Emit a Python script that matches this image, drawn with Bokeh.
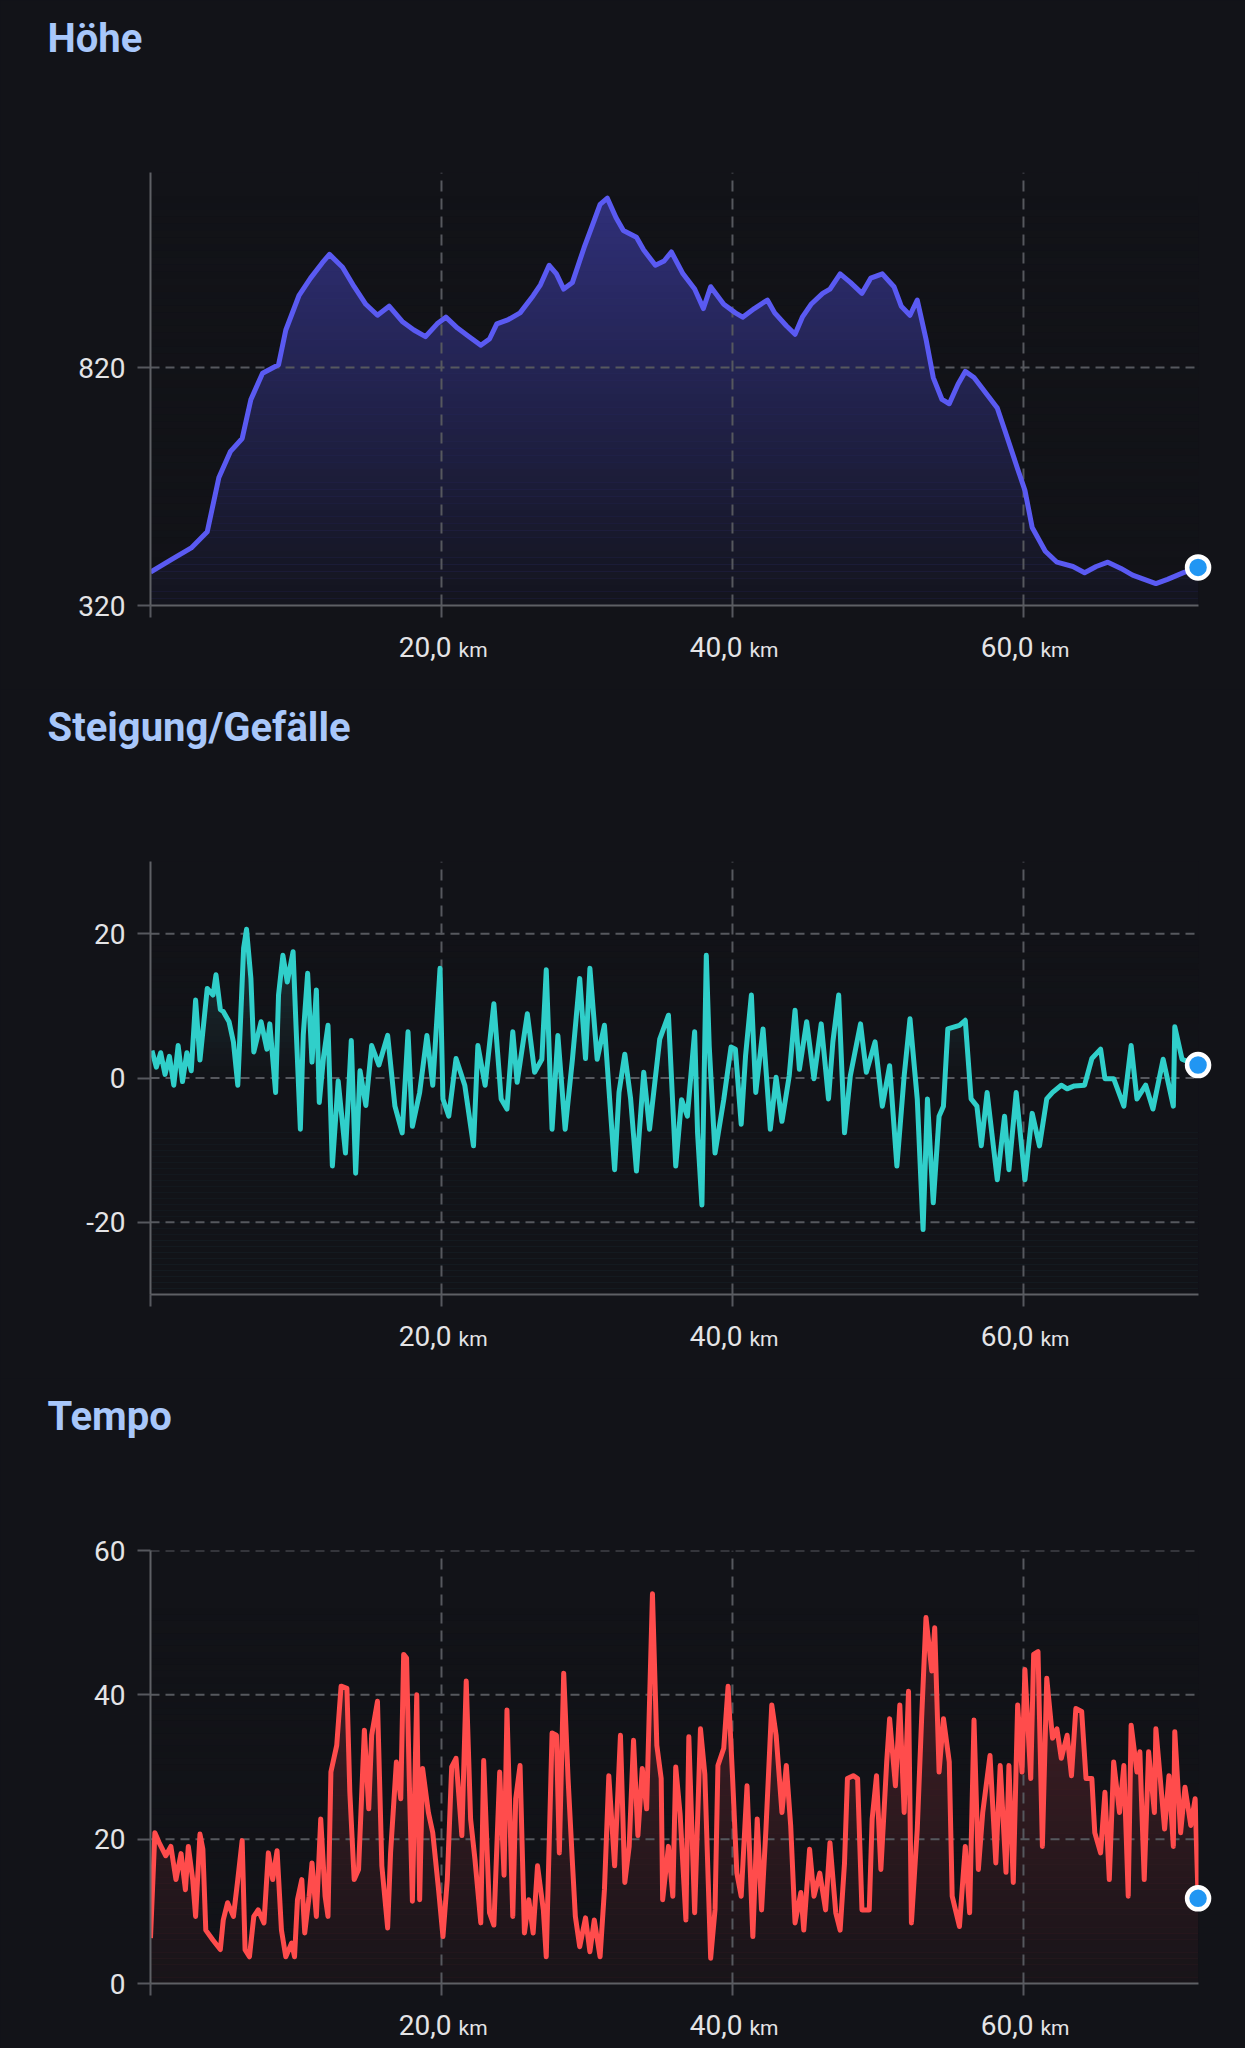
import numpy as np
from bokeh.plotting import figure
from bokeh.models import Range1d, FixedTicker, ColumnDataSource
from bokeh.core.properties import value
from bokeh.layouts import column
from bokeh.embed import file_html
from bokeh.resources import INLINE

# ---------------- data ----------------
titles = ["Höhe", "Steigung/Gefälle", "Tempo"]
x_ticks = [20, 40, 60]
x_tick_labels = ["20,0", "40,0", "60,0"]
x_unit = "km"

elev_km = [0, 1.4, 2.8, 3.9, 4.7, 5.5, 6.3, 6.9, 7.7, 8.8, 9.3, 10.2, 11.0, 11.8, 12.3, 13.2, 14.0, 14.8, 15.6, 16.4,
           17.3, 18.1, 18.9, 19.7, 20.3, 21.1, 21.9, 22.7, 23.3, 23.8, 24.6, 25.4, 26.3, 26.8, 27.4, 27.9, 28.4, 29.0, 29.8, 30.3,
           30.9, 31.4, 32.0, 32.5, 33.4, 33.9, 34.7, 35.3, 35.8, 36.6, 37.4, 38.0, 38.5, 39.4, 40.2, 40.7, 41.5, 42.4, 42.9, 43.7,
           44.3, 44.8, 45.4, 46.2, 46.7, 47.4, 48.1, 48.9, 49.5, 50.3, 51.1, 51.6, 52.2, 52.7, 53.3, 53.8, 54.4, 54.9, 55.5, 56.0,
           56.6, 57.4, 58.2, 58.7, 59.6, 60.1, 60.6, 61.5, 62.3, 63.4, 64.2, 65.0, 65.8, 66.7, 67.5, 68.3, 69.1, 69.9, 71.0, 72.0]
elev_m = [390, 416, 441, 475, 589, 644, 671, 753, 808, 826, 899, 971, 1008, 1040, 1058, 1031, 990, 953, 930, 949,
          917, 899, 885, 912, 926, 903, 885, 867, 880, 912, 921, 935, 971, 994, 1035, 1017, 985, 999, 1072, 1113,
          1163, 1176, 1135, 1108, 1094, 1067, 1035, 1044, 1063, 1017, 985, 944, 990, 953, 935, 926, 944, 962, 935, 908,
          890, 926, 953, 976, 985, 1017, 999, 976, 1008, 1017, 990, 949, 930, 962, 880, 799, 753, 744, 785, 812,
          799, 767, 735, 690, 607, 562, 484, 434, 411, 402, 389, 402, 411, 398, 384, 375, 366, 375, 389, 400]
elev_ticks = [320, 820]

grade_km = [0.1, 0.4, 0.7, 1.0, 1.3, 1.6, 1.9, 2.2, 2.5, 2.8, 3.1, 3.4, 3.9, 4.3, 4.5, 4.8, 5.0, 5.4, 5.7, 6.0,
            6.4, 6.6, 6.9, 7.1, 7.6, 8.0, 8.2, 8.6, 8.8, 9.1, 9.4, 9.8, 10.0, 10.3, 10.5, 10.8, 11.1, 11.4, 11.6, 11.9,
            12.2, 12.5, 12.9, 13.4, 13.8, 14.1, 14.4, 14.8, 15.2, 15.7, 16.3, 16.8, 17.3, 17.7, 18.0, 18.5, 19.0, 19.4, 19.9, 20.1,
            20.5, 21.0, 21.6, 22.2, 22.5, 23.0, 23.6, 24.1, 24.5, 24.9, 25.2, 25.9, 26.4, 26.9, 27.2, 27.6, 28.0, 28.5, 29.0, 29.5,
            29.9, 30.2, 30.7, 31.2, 31.9, 32.2, 32.6, 33.0, 33.4, 33.9, 34.3, 35.0, 35.6, 36.1, 36.5, 36.9, 37.4, 37.6, 37.9, 38.2,
            38.4, 38.8, 39.4, 39.9, 40.2, 40.6, 40.9, 41.3, 41.6, 42.1, 42.6, 43.0, 43.4, 43.9, 44.3, 44.6, 45.1, 45.6, 46.1, 46.6,
            46.9, 47.3, 47.7, 48.1, 48.8, 49.2, 49.8, 50.3, 50.8, 51.3, 51.8, 52.2, 52.7, 53.1, 53.4, 53.8, 54.2, 54.5, 54.8, 55.6,
            56.0, 56.4, 56.8, 57.1, 57.5, 58.2, 58.7, 59.0, 59.5, 60.1, 60.6, 61.1, 61.6, 62.0, 62.6, 63.0, 63.5, 64.2, 64.7, 65.3,
            65.6, 66.2, 66.9, 67.4, 67.8, 68.4, 68.9, 69.6, 70.3, 70.4, 70.9, 71.4, 72.0]
grade_pct = [3.8, 1.5, 3.5, 0.5, 3.0, -1.0, 4.5, -0.5, 3.5, 1.0, 10.8, 2.5, 12.4, 11.5, 14.3, 9.5, 9.2, 7.8, 5.0, -1.0,
             18.0, 20.6, 13.8, 3.6, 7.8, 4.0, 7.5, -2.0, 11.5, 17.0, 13.3, 17.5, 7.3, -7.1, 6.0, 14.5, 2.2, 12.2, -3.4, 3.0,
             7.3, -12.2, -0.4, -10.4, 5.2, -13.2, 1.0, -3.8, 4.5, 1.8, 5.9, -3.9, -7.6, 6.4, -6.7, -2.0, 5.9, -1.0, 15.2, -2.9,
             -5.3, 2.7, -1.0, -9.4, 4.5, -1.0, 10.3, -2.9, -4.3, 6.4, -0.6, 8.9, 0.8, 2.6, 15.0, -7.1, 5.9, -7.1, 2.6, 13.8,
             2.7, 15.2, 2.6, 7.3, -12.7, -2.0, 3.3, -2.9, -12.9, 0.8, -7.1, 5.4, 8.7, -12.2, -3.0, -5.3, 6.4, -7.6, -17.6, 17.0,
             4.5, -10.4, -3.0, 4.3, 4.0, -6.4, 3.1, 11.5, -2.0, 6.8, -7.1, 0.1, -6.0, 0.3, 9.4, 1.2, 7.8, -0.1, 7.5, -2.9,
             5.0, 11.5, -7.6, 0.3, 7.5, 0.8, 5.0, -3.9, 1.7, -12.2, 0.3, 8.2, -2.9, -21.0, -2.9, -17.3, -5.3, -3.9, 6.8, 7.3,
             8.0, -2.9, -3.9, -9.4, -2.0, -14.1, -5.3, -12.7, -2.0, -14.1, -4.9, -9.4, -2.9, -2.0, -1.0, -1.5, -1.1, -1.0, 2.7, 4.0,
             -0.1, -0.1, -3.9, 4.5, -2.9, -1.0, -4.3, 2.6, -3.9, 7.1, 2.6, 2.2, 1.8]
grade_ticks = [-20, 0, 20]

speed_km = [0.0, 0.3, 0.6, 1.05, 1.4, 1.75, 2.1, 2.4, 2.6, 2.9, 3.1, 3.4, 3.6, 3.8, 4.3, 4.8, 5.0, 5.3, 5.7, 6.0,
            6.3, 6.5, 6.8, 7.1, 7.4, 7.8, 8.1, 8.4, 8.7, 9.0, 9.3, 9.7, 9.9, 10.1, 10.4, 10.6, 10.9, 11.1, 11.4, 11.7,
            12.0, 12.2, 12.4, 12.8, 13.1, 13.5, 13.7, 14.0, 14.3, 14.7, 15.0, 15.2, 15.6, 15.9, 16.3, 16.5, 16.9, 17.2, 17.4, 17.6,
            17.8, 18.0, 18.3, 18.5, 18.7, 19.1, 19.4, 19.8, 20.1, 20.4, 20.7, 21.0, 21.4, 21.7, 22.0, 22.3, 22.7, 22.9, 23.3, 23.6,
            24.0, 24.3, 24.5, 24.9, 25.1, 25.4, 25.7, 26.0, 26.3, 26.6, 27.0, 27.2, 27.6, 27.9, 28.1, 28.4, 28.7, 29.0, 29.2, 29.5,
            29.9, 30.2, 30.5, 30.9, 31.2, 31.5, 31.9, 32.3, 32.6, 32.9, 33.2, 33.5, 33.8, 34.1, 34.5, 34.8, 35.1, 35.2, 35.6, 35.9,
            36.1, 36.4, 36.8, 37.0, 37.4, 37.8, 38.1, 38.5, 38.8, 39.0, 39.4, 39.7, 40.0, 40.3, 40.6, 41.0, 41.4, 41.7, 42.0, 42.3,
            42.7, 43.0, 43.4, 43.7, 44.0, 44.3, 44.7, 44.9, 45.3, 45.6, 46.0, 46.4, 46.7, 47.1, 47.4, 47.7, 47.9, 48.3, 48.6, 48.9,
            49.4, 49.6, 49.9, 50.2, 50.6, 50.8, 51.2, 51.5, 51.8, 52.1, 52.3, 52.7, 53.0, 53.3, 53.7, 53.9, 54.2, 54.5, 54.9, 55.1,
            55.6, 56.0, 56.3, 56.6, 56.9, 57.2, 57.7, 58.1, 58.4, 58.8, 59.0, 59.3, 59.6, 59.9, 60.1, 60.5, 60.7, 61.0, 61.3, 61.6,
            62.0, 62.3, 62.6, 63.0, 63.3, 63.6, 64.0, 64.3, 64.7, 64.9, 65.3, 65.6, 65.9, 66.2, 66.6, 66.9, 67.2, 67.4, 67.8, 68.0,
            68.3, 68.6, 69.0, 69.1, 69.4, 69.7, 70.0, 70.3, 70.4, 70.8, 71.1, 71.5, 71.8, 72.0]
speed_kmh = [6.3, 20.9, 19.5, 17.7, 19.0, 14.4, 18.0, 13.0, 19.0, 14.4, 9.3, 20.7, 18.6, 7.4, 6.0, 4.7, 8.8, 11.2, 9.3, 14.4,
             19.8, 4.7, 3.7, 9.3, 10.2, 8.4, 18.1, 14.4, 18.4, 7.4, 3.7, 5.6, 3.7, 11.6, 14.4, 7.0, 12.1, 16.7, 9.3, 22.8,
             12.1, 9.3, 29.3, 33.0, 41.2, 40.9, 26.5, 14.4, 15.8, 35.1, 24.2, 34.4, 39.1, 16.3, 7.7, 18.1, 30.7, 25.6, 45.6, 45.1,
             27.0, 11.4, 40.0, 11.6, 29.8, 23.7, 20.9, 13.0, 6.5, 14.4, 30.0, 31.2, 20.5, 41.9, 22.8, 17.2, 8.4, 30.9, 9.8, 8.1,
             29.3, 15.0, 37.9, 9.3, 25.6, 30.2, 7.0, 11.6, 7.0, 16.3, 10.2, 3.7, 34.7, 34.4, 18.1, 43.0, 28.4, 16.7, 9.3, 5.1,
             9.1, 4.4, 8.8, 3.7, 13.0, 28.8, 16.3, 34.4, 14.0, 19.0, 33.7, 20.5, 29.8, 24.2, 54.0, 33.0, 28.4, 11.6, 19.0, 12.1,
             30.0, 23.5, 8.8, 34.2, 9.8, 35.3, 29.0, 3.5, 10.2, 30.2, 32.6, 41.2, 28.8, 15.3, 12.1, 27.4, 6.5, 22.8, 10.2, 21.4,
             38.6, 34.4, 23.7, 30.2, 21.9, 8.4, 12.6, 7.4, 18.6, 12.1, 15.3, 10.2, 19.5, 9.8, 7.4, 16.7, 28.4, 28.8, 28.4, 10.2,
             10.2, 22.8, 28.8, 15.8, 30.7, 36.7, 27.4, 38.6, 23.7, 40.5, 8.4, 21.4, 36.7, 50.7, 43.3, 49.3, 29.3, 36.7, 30.7, 12.1,
             7.9, 19.0, 9.8, 36.5, 15.8, 23.7, 31.6, 16.7, 30.2, 15.4, 30.2, 14.0, 38.6, 29.3, 43.5, 28.4, 45.6, 46.0, 19.0, 42.3,
             34.0, 35.3, 31.2, 34.4, 28.8, 38.1, 37.7, 28.4, 28.4, 20.9, 18.1, 26.5, 14.4, 30.7, 23.7, 30.2, 12.1, 35.8, 29.3, 32.1,
             14.4, 32.1, 23.7, 35.3, 28.4, 21.4, 28.8, 19.0, 34.9, 20.9, 27.2, 21.9, 25.6, 11.8]
speed_ticks = [0, 20, 40, 60]

# ---------------- style ----------------
BG = "#121318"
GRID = "#56585e"
AXIS = "#5e6065"
TEXT = "#e4e4e6"
TITLE = "#a8c7fa"
FONT = "Roboto"
PAGE_W = 1245
LEFT = 150                         # frame left inside the figure
W_FRAME, H_FRAME = 1048, 433
X_MAX = 72.03
SHIFT = 0.37                       # rendered baseline sits ~0.37em below the anchor

panels = [
    dict(title=titles[0], x=elev_km, y=elev_m, ticks=elev_ticks, yr=(320, 1230), color="#5a5af2",
         fill="#30307a", fill_top=1180, top_border=172, bottom_border=84, fill_base=320, amax=0.95),
    dict(title=titles[1], x=grade_km, y=grade_pct, ticks=grade_ticks, yr=(-30, 30), color="#30cfca",
         fill="#1d3438", fill_top=20, top_border=172, bottom_border=84, fill_base=0, amax=1.0),
    dict(title=titles[2], x=speed_km, y=speed_kmh, ticks=speed_ticks, yr=(0, 60), color="#ff4c4c",
         fill="#4a2026", fill_top=52, top_border=172, bottom_border=65, fill_base=0, amax=0.9),
]

figs = []
for pn in panels:
    y0, y1 = pn["yr"]
    upp = (y1 - y0) / H_FRAME          # data units per pixel (y)
    xpp = X_MAX / W_FRAME              # data units per pixel (x)
    height = pn["top_border"] + H_FRAME + pn["bottom_border"]
    p = figure(width=PAGE_W, height=height, frame_width=W_FRAME, frame_height=H_FRAME,
               x_range=Range1d(0, X_MAX), y_range=Range1d(y0, y1),
               min_border_left=LEFT, min_border_right=PAGE_W - LEFT - W_FRAME,
               min_border_top=pn["top_border"], min_border_bottom=pn["bottom_border"],
               output_backend="svg", toolbar_location=None,
               background_fill_color=BG, border_fill_color=BG, outline_line_color=None)
    p.xgrid.visible = False
    p.ygrid.visible = False

    xs = np.array(pn["x"], dtype=float)
    ys = np.array(pn["y"], dtype=float)

    # area fill under the line
    p.varea(x=xs, y1=np.full(len(xs), y0), y2=ys, fill_color=pn["fill"], fill_alpha=1.0)
    # vertical fade towards the background
    nb = 60
    edges = np.linspace(y0, pn["fill_top"], nb + 1)
    mids = 0.5 * (edges[:-1] + edges[1:])
    base = pn["fill_base"]
    alphas = []
    for m in mids:
        if m <= base:
            alphas.append(pn["amax"])
        else:
            alphas.append(pn["amax"] * (1 - (m - base) / (pn["fill_top"] - base)))
    src = ColumnDataSource(dict(bottom=edges[:-1], top=edges[1:], a=alphas))
    p.quad(left=0, right=X_MAX, bottom="bottom", top="top", fill_color=BG, fill_alpha="a",
           line_color=None, source=src)

    # dashed grid lines
    hticks = [t for t in pn["ticks"] if t != y0]
    p.multi_line(xs=[[0, X_MAX] for _ in hticks], ys=[[t, t] for t in hticks],
                 line_color=GRID, line_width=2, line_dash="9 6")
    p.multi_line(xs=[[t, t] for t in x_ticks], ys=[[y0, y1] for _ in x_ticks],
                 line_color=GRID, line_width=2, line_dash="11 7")

    # series line
    p.line(xs, ys, line_color=pn["color"], line_width=5, line_join="round")
    # end marker
    p.scatter(x=[xs[-1]], y=[ys[-1]], size=22, marker="circle", fill_color="#2196f3",
              line_color="white", line_width=4.5, level="overlay")

    # axes
    p.yaxis.ticker = FixedTicker(ticks=pn["ticks"])
    p.yaxis.major_label_overrides = {t: str(t) for t in pn["ticks"]}
    p.yaxis.axis_line_color = AXIS
    p.yaxis.axis_line_width = 2
    p.yaxis.major_tick_line_color = GRID
    p.yaxis.major_tick_line_width = 2
    p.yaxis.major_tick_out = 13
    p.yaxis.major_tick_in = 0
    p.yaxis.minor_tick_line_color = None
    p.yaxis.major_label_standoff = 12
    p.yaxis.major_label_text_font = FONT
    p.yaxis.major_label_text_font_size = "28px"
    p.yaxis.major_label_text_color = TEXT

    p.xaxis.ticker = FixedTicker(ticks=[0] + x_ticks)
    p.xaxis.major_label_overrides = {t: "" for t in [0] + x_ticks}
    p.xaxis.axis_line_color = AXIS
    p.xaxis.axis_line_width = 2
    p.xaxis.major_tick_line_color = GRID
    p.xaxis.major_tick_line_width = 2
    p.xaxis.major_tick_out = 12
    p.xaxis.major_tick_in = 0
    p.xaxis.minor_tick_line_color = None

    # x tick labels with small unit (text glyphs drawn on the unclipped overlay level)
    y_num = y0 - (52 - SHIFT * 28) * upp
    y_unit = y0 - (52 - SHIFT * 21) * upp
    p.text(x=[t + 10 * xpp for t in x_ticks], y=[y_num] * len(x_ticks), text=x_tick_labels,
           text_align="right", text_baseline="alphabetic", text_font=value(FONT),
           text_font_size="28px", text_color=TEXT, level="overlay")
    p.text(x=[t + 17 * xpp for t in x_ticks], y=[y_unit] * len(x_ticks), text=[x_unit] * len(x_ticks),
           text_align="left", text_baseline="alphabetic", text_font=value(FONT),
           text_font_size="21px", text_color=TEXT, level="overlay")

    # panel title
    p.text(x=[-103 * xpp], y=[y1 + (119 + SHIFT * 40) * upp], text=[pn["title"]], text_align="left",
           text_baseline="alphabetic", text_font=value(FONT), text_font_size="40px",
           text_font_style="bold", text_color=TITLE, level="overlay")
    figs.append(p)

layout = column(*figs, spacing=0, styles={"background-color": BG})

open("out.html", "w").write(file_html(layout, INLINE))
